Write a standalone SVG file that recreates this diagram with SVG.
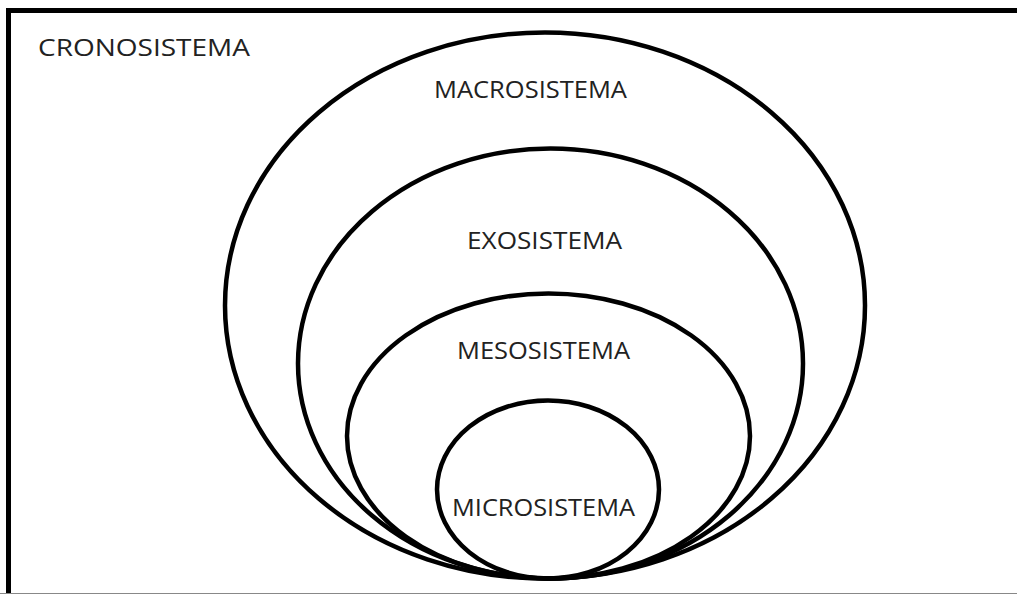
<svg xmlns="http://www.w3.org/2000/svg" width="1017" height="594" viewBox="0 0 1017 594">
<style>
.ring{fill:none;stroke:#000;stroke-width:4.5}
.lbl{font-family:"Open Sans","Liberation Sans",sans-serif;font-size:23.5px;fill:#222}
</style>
<rect width="1017" height="594" fill="#fff"/>
<g id="frame">
<path d="M8.5,594 V10.5 H1017" fill="none" stroke="#000" stroke-width="5"/>
<line x1="0" y1="593.5" x2="1017" y2="593.5" stroke="#888" stroke-width="1"/>
</g>
<g id="cronosistema">
<text class="lbl" x="38" y="56" textLength="212" lengthAdjust="spacingAndGlyphs">CRONOSISTEMA</text>
</g>
<g id="macrosistema">
<ellipse class="ring" cx="545" cy="305.5" rx="320" ry="273"/>
<text class="lbl" x="434" y="98" textLength="193" lengthAdjust="spacingAndGlyphs">MACROSISTEMA</text>
</g>
<g id="exosistema">
<ellipse class="ring" cx="550.5" cy="363.5" rx="252.5" ry="215"/>
<text class="lbl" x="467" y="249" textLength="155" lengthAdjust="spacingAndGlyphs">EXOSISTEMA</text>
</g>
<g id="mesosistema">
<ellipse class="ring" cx="548.5" cy="436" rx="201.5" ry="142.5"/>
<text class="lbl" x="457" y="359" textLength="173" lengthAdjust="spacingAndGlyphs">MESOSISTEMA</text>
</g>
<g id="microsistema">
<ellipse class="ring" cx="548" cy="489.5" rx="111" ry="89"/>
<text class="lbl" x="452" y="516" textLength="183" lengthAdjust="spacingAndGlyphs">MICROSISTEMA</text>
</g>
<g id="connectors"/>
</svg>
